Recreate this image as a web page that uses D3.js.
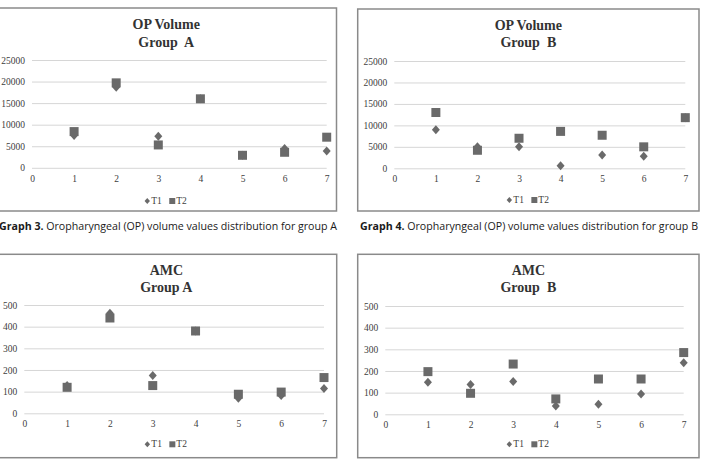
<!DOCTYPE html>
<html>
<head>
<meta charset="utf-8">
<script src="https://cdn.jsdelivr.net/npm/d3@7"></script>
<style>
  body { margin: 0; background: #fff; }
  svg { display: block; }
</style>
</head>
<body>
<div id="chart"></div>
<script>
// patients on the x axis
const patients = [1, 2, 3, 4, 5, 6, 7];
const xTicks = [0, 1, 2, 3, 4, 5, 6, 7];

// OP volume values
const opTicks = [0, 5000, 10000, 15000, 20000, 25000];
const opA_T1 = [7500, 18700, 7300, 16000, 2900, 4500, 3900];
const opA_T2 = [8400, 19700, 5300, 16000, 2900, 3600, 7100];
const opB_T1 = [9000, 5000, 5000, 600, 3100, 2800, 11800];
const opB_T2 = [13000, 4200, 7000, 8600, 7700, 5000, 11800];

// AMC values
const amcTicks = [0, 100, 200, 300, 400, 500];
const amcA_T1 = [128, 462, 175, 380, 70, 82, 115];
const amcA_T2 = [120, 440, 128, 380, 88, 98, 165];
const amcB_T1 = [148, 138, 151, 38, 46, 94, 238];
const amcB_T2 = [197, 97, 232, 71, 163, 163, 285];

const seriesNames = ["T1", "T2"];
const captions = [
  "Oropharyngeal (OP) volume values distribution for group A",
  "Oropharyngeal (OP) volume values distribution for group B"
];

const width = 702, height = 464;
const svg = d3.select("#chart").append("svg")
  .attr("width", width)
  .attr("height", height);

const diamondPath = "M0,-4.5L4,0L0,4.5L-4,0Z";
const squarePath = "M-4.5,-4.5H4.5V4.5H-4.5Z";
const markColor = "#6a6a6a";
const serif = "'Liberation Serif', 'Times New Roman', serif";

function panel(cfg) {
  const g = svg.append("g");

  g.append("rect")
    .attr("x", cfg.frame[0]).attr("y", cfg.frame[1])
    .attr("width", cfg.frame[2] - cfg.frame[0])
    .attr("height", cfg.frame[3] - cfg.frame[1])
    .attr("fill", "#fff")
    .attr("stroke", "#8a8a8a")
    .attr("stroke-width", 1.5);

  const x = d3.scaleLinear().domain([0, 7]).range([cfg.x0, cfg.x1]);
  const y = d3.scaleLinear().domain([0, d3.max(cfg.ticks)]).range([cfg.yb, cfg.yt]);
  const cx = (cfg.frame[0] + cfg.frame[2]) / 2;

  // gridlines + y labels
  const yAxis = g.append("g")
    .attr("transform", `translate(${cfg.x0},0)`)
    .attr("font-family", serif).attr("font-size", 9.5)
    .call(d3.axisLeft(y).tickValues(cfg.ticks).tickSize(-(cfg.x1 - cfg.x0)).tickPadding(7).tickFormat(d3.format("d")));
  yAxis.attr("font-family", serif).attr("font-size", 9.5);
  yAxis.select(".domain").remove();
  yAxis.selectAll("line").attr("stroke", "#d6d6d6");
  yAxis.selectAll("text").attr("fill", "#404040");

  // x labels
  const xAxis = g.append("g")
    .attr("transform", `translate(0,${cfg.yb})`)
    .call(d3.axisBottom(x).tickValues(xTicks).tickSize(0).tickPadding(7).tickFormat(d3.format("d")));
  xAxis.attr("font-family", serif).attr("font-size", 9.5);
  xAxis.select(".domain").remove();
  xAxis.selectAll("text").attr("fill", "#404040");

  // title
  cfg.title.forEach((t, i) => {
    g.append("text")
      .attr("x", cx).attr("y", cfg.titleY[i])
      .attr("text-anchor", "middle")
      .attr("dominant-baseline", "central")
      .style("font-family", serif).style("font-weight", "bold")
      .style("font-size", "14px").style("white-space", "pre")
      .attr("fill", "#333")
      .text(t);
  });

  // points: T1 diamonds then T2 squares
  [cfg.t1, cfg.t2].forEach((vals, si) => {
    g.append("g").selectAll("path")
      .data(vals)
      .join("path")
      .attr("transform", (d, i) => `translate(${x(patients[i])},${y(d)})`)
      .attr("d", si === 0 ? diamondPath : squarePath)
      .attr("fill", markColor);
  });

  // legend
  const lg = g.append("g").attr("transform", `translate(${cx - 19},${cfg.legendY})`);
  seriesNames.forEach((n, i) => {
    const item = lg.append("g").attr("transform", `translate(${i * 25},0)`);
    item.append("path")
      .attr("d", i === 0 ? "M0,-3L2.7,0L0,3L-2.7,0Z" : "M-3,-3H3V3H-3Z")
      .attr("fill", markColor);
    item.append("text")
      .attr("x", 4).attr("dominant-baseline", "central")
      .style("font-family", serif).style("font-size", "9.5px")
      .attr("fill", "#404040")
      .text(n);
  });
}

panel({
  frame: [-4, 8, 336.5, 211], x0: 32, x1: 326.7, yb: 167.8, yt: 60,
  ticks: opTicks, t1: opA_T1, t2: opA_T2,
  title: ["OP Volume", "Group  A"], titleY: [24, 42], legendY: 201
});
panel({
  frame: [357.7, 9, 699, 211], x0: 394.3, x1: 685.3, yb: 168.3, yt: 61,
  ticks: opTicks, t1: opB_T1, t2: opB_T2,
  title: ["OP Volume", "Group  B"], titleY: [25, 42], legendY: 200
});
panel({
  frame: [-4, 254.3, 336.7, 457.7], x0: 24.3, x1: 324, yb: 413.3, yt: 305,
  ticks: amcTicks, t1: amcA_T1, t2: amcA_T2,
  title: ["AMC", "Group A"], titleY: [270.7, 287.3], legendY: 444.3
});
panel({
  frame: [357.7, 254.3, 699, 457.7], x0: 385.3, x1: 683.7, yb: 414.3, yt: 306,
  ticks: amcTicks, t1: amcB_T1, t2: amcB_T2,
  title: ["AMC", "Group  B"], titleY: [270.7, 287.3], legendY: 444.3
});

// captions under the top row
[[-1, "Graph 3."], [360, "Graph 4."]].forEach((c, i) => {
  const t = svg.append("text")
    .attr("x", c[0]).attr("y", 230)
    .attr("textLength", 338).attr("lengthAdjust", "spacingAndGlyphs")
    .style("font-family", "'Open Sans', 'Noto Sans', sans-serif")
    .style("font-size", "10.5px")
    .attr("fill", "#1a1a1a");
  t.append("tspan").style("font-weight", "bold").text(c[1] + " ");
  t.append("tspan").text(captions[i]);
});
</script>
</body>
</html>
